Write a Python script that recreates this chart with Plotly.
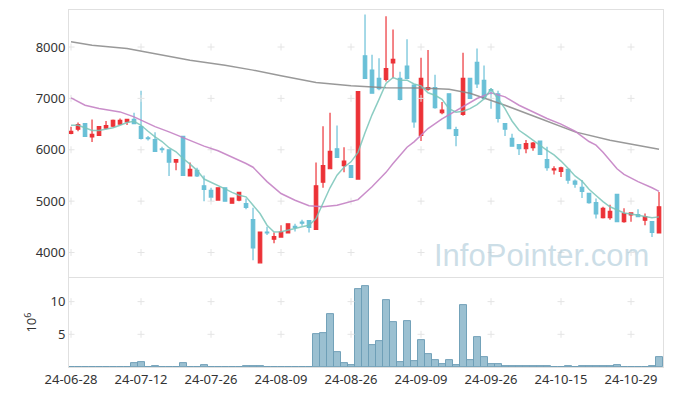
import plotly.graph_objects as go
from plotly.subplots import make_subplots

dates = ["24-06-28","24-07-01","24-07-02","24-07-03","24-07-04","24-07-05","24-07-08","24-07-09","24-07-10","24-07-11",
         "24-07-12","24-07-15","24-07-16","24-07-17","24-07-18","24-07-19","24-07-22","24-07-23","24-07-24","24-07-25",
         "24-07-26","24-07-29","24-07-30","24-07-31","24-08-01","24-08-02","24-08-05","24-08-06","24-08-07","24-08-08",
         "24-08-09","24-08-12","24-08-13","24-08-14","24-08-16","24-08-19","24-08-20","24-08-21","24-08-22","24-08-23",
         "24-08-26","24-08-27","24-08-28","24-08-29","24-08-30","24-09-02","24-09-03","24-09-04","24-09-05","24-09-06",
         "24-09-09","24-09-10","24-09-11","24-09-12","24-09-13","24-09-19","24-09-20","24-09-23","24-09-24","24-09-25",
         "24-09-26","24-09-27","24-09-30","24-10-02","24-10-04","24-10-07","24-10-08","24-10-10","24-10-11","24-10-14",
         "24-10-15","24-10-16","24-10-17","24-10-18","24-10-21","24-10-22","24-10-23","24-10-24","24-10-25","24-10-28",
         "24-10-29","24-10-30","24-10-31","24-11-01","24-11-04"]

open_ = [6320,6400,6510,6250,6280,6420,6460,6500,6540,6590,
         6450,6230,6200,6020,6000,5760,6260,5490,5600,5300,
         5210,5020,5260,4960,5020,4950,4640,3800,4400,4260,
         4300,4380,4510,4590,4620,4450,5370,5630,6020,5690,
         5690,5430,7830,7550,7390,7370,7690,7390,7630,7260,
         6280,7180,7210,6720,7090,6390,6690,7390,7700,7350,
         7170,7090,6510,6220,6100,6020,6040,6170,5810,5610,
         5580,5620,5390,5270,5150,4970,4680,4680,5130,4600,
         4730,4740,4630,4600,4380]
high = [6450,6530,6520,6590,6460,6560,6590,6610,6590,6720,
        7150,6270,6340,6060,6000,5810,6260,5750,5650,5500,
        5260,5260,5260,5060,5180,5050,4870,4400,4500,4390,
        4530,4560,4560,4640,4620,5750,6460,6720,6470,6050,
        5690,7130,8630,7850,7780,8600,8340,7520,8150,7260,
        7790,7940,7460,6930,7090,6450,7890,7400,7970,7640,
        7200,7150,6510,6310,6100,6190,6150,6170,6060,5680,
        5670,5620,5420,5410,5160,5050,4890,4930,5130,4860,
        4780,4840,4760,4600,5180]
low = [6300,6360,6250,6150,6270,6400,6440,6480,6480,6500,
       6200,6180,5960,5940,5490,5600,5500,5490,5470,5000,
       5000,5020,4990,4950,5000,4840,3850,3800,4340,4180,
       4290,4380,4410,4520,4390,4450,5260,5630,5840,5560,
       5460,5430,7390,7100,7160,7330,7390,6960,7370,6430,
       6170,7150,6800,6690,6410,6070,6660,7000,7200,6980,
       6800,6530,6270,6070,5900,5930,5980,5910,5590,5520,
       5470,5340,5260,5060,4950,4660,4660,4640,4600,4580,
       4600,4690,4530,4300,4380]
close = [6360,6490,6260,6300,6450,6470,6570,6570,6590,6510,
         6220,6215,5970,6000,5760,5810,5500,5620,5490,5230,
         5080,5260,5000,5060,5170,4880,4090,4400,4380,4310,
         4400,4560,4490,4570,4490,5300,5690,5970,5850,5780,
         5460,7130,7390,7100,7190,7580,7760,6980,7390,6540,
         7390,7210,6820,6770,6410,6280,7390,7000,7280,7000,
         7150,6610,6400,6070,6020,6120,6130,5910,5650,5630,
         5650,5410,5330,5190,4970,4750,4860,4800,4600,4760,
         4770,4700,4700,4390,4890]

volume_m = [0.02,0.02,0.02,0.02,0.02,0.02,0.02,0.02,0.02,0.56,
            0.71,0.03,0.10,0.03,0.03,0.03,0.56,0.03,0.03,0.25,
            0.03,0.03,0.03,0.03,0.03,0.10,0.12,0.10,0.03,0.03,
            0.03,0.03,0.03,0.03,0.03,5.00,5.15,8.06,2.24,0.56,
            0.26,11.9,12.4,3.30,3.98,10.2,6.84,0.77,7.00,0.87,
            4.08,1.94,1.02,0.41,1.02,0.26,9.44,1.02,4.54,1.48,
            0.41,0.41,0.10,0.10,0.10,0.10,0.10,0.10,0.10,0.03,
            0.03,0.10,0.03,0.10,0.10,0.10,0.10,0.10,0.26,0.03,
            0.03,0.03,0.03,0.10,1.48]

ma5_idx = list(range(85))
ma5_val = [6477,6477,6427,6374,6374,6399,6427,6477,6530,6555,
           6477,6361,6251,6160,6040,5960,5829,5720,5600,5430,
           5370,5310,5240,5170,5115,5084,4920,4759,4531,4400,
           4403,4430,4467,4500,4531,4662,4960,5260,5504,5660,
           5765,5950,6330,6680,6980,7289,7406,7354,7354,7280,
           7243,7110,7061,6980,6800,6730,6750,6800,6880,6990,
           7180,6980,6800,6560,6380,6283,6180,6089,5990,5900,
           5780,5640,5490,5390,5230,5110,4990,4890,4823,4770,
           4750,4727,4700,4675,4694]
ma20_idx = [0,2,4,7,9,12,14,16,19,21,24,25,26,27,28,30,32,34,36,38,40,41,43,45,46,48,49,51,53,55,57,58,60,62,64,66,68,70,72,74,75,76,77,78,79,81,83,84]
ma20_val = [7011,6866,6802,6737,6640,6450,6348,6240,6070,5980,5800,5732,5660,5520,5380,5148,5018,4909,4889,4920,4990,5030,5280,5560,5732,6050,6154,6413,6600,6760,6920,6997,7107,7030,6866,6737,6608,6500,6360,6160,6089,5950,5800,5630,5520,5380,5260,5190]
ma120_idx = [0,3,8,13,17,22,26,30,35,40,45,50,54,57,62,67,72,77,81,84]
ma120_val = [8100,8035,7970,7840,7743,7645,7550,7440,7308,7244,7205,7200,7178,7100,6866,6608,6348,6186,6089,6011]

tick_idx = [0,10,20,30,40,50,60,70,80]
price_ticks = [4000,5000,6000,7000,8000]
vol_ticks = [5,10]

RED = "#ec3237"
CYAN = "#6ac0d7"
FONT = "Noto Sans"

fig = make_subplots(rows=2, cols=1, shared_xaxes=True, vertical_spacing=0.004,
                    row_heights=[0.75, 0.25])

fig.add_trace(go.Candlestick(x=dates, open=open_, high=high, low=low, close=close,
                             increasing=dict(line=dict(color=RED, width=1.2), fillcolor=RED),
                             decreasing=dict(line=dict(color=CYAN, width=1.2), fillcolor=CYAN),
                             whiskerwidth=0, showlegend=False), row=1, col=1)

# grid crosses at tick intersections
gx = [dates[i] for i in tick_idx for _ in price_ticks]
gy = [p for _ in tick_idx for p in price_ticks]
fig.add_trace(go.Scatter(x=gx, y=gy, mode="markers", hoverinfo="skip",
                         marker=dict(symbol="cross-thin", size=5, line=dict(color="#e4e4e4", width=1)),
                         showlegend=False), row=1, col=1)

fig.add_trace(go.Scatter(x=[dates[i] for i in ma120_idx], y=ma120_val, mode="lines",
                         line=dict(color="rgba(135,135,135,0.85)", width=1.5), showlegend=False), row=1, col=1)
fig.add_trace(go.Scatter(x=[dates[i] for i in ma20_idx], y=ma20_val, mode="lines",
                         line=dict(color="rgba(196,130,196,0.9)", width=1.5), showlegend=False), row=1, col=1)
fig.add_trace(go.Scatter(x=[dates[i] for i in ma5_idx], y=ma5_val, mode="lines",
                         line=dict(color="rgba(120,196,184,0.85)", width=1.5), showlegend=False), row=1, col=1)

fig.add_trace(go.Bar(x=dates, y=volume_m, marker=dict(color="rgba(130,176,198,0.8)",
                                                      line=dict(color="rgba(110,158,182,0.95)", width=1)),
                     showlegend=False), row=2, col=1)
gx2 = [dates[i] for i in tick_idx for _ in vol_ticks]
gy2 = [v for _ in tick_idx for v in vol_ticks]
fig.add_trace(go.Scatter(x=gx2, y=gy2, mode="markers", hoverinfo="skip",
                         marker=dict(symbol="cross-thin", size=5, line=dict(color="#e4e4e4", width=1)),
                         showlegend=False), row=2, col=1)

fig.add_annotation(text="InfoPointer.com", xref="paper", yref="paper", x=0.796, y=0.311,
                   xanchor="center", yanchor="middle",
                   showarrow=False, font=dict(family="Liberation Sans", size=31,
                                              color="rgba(170,200,215,0.6)"))

axis_common = dict(showline=True, linecolor="#e0e0e0", linewidth=1, mirror=True,
                   showgrid=False, zeroline=False, ticks="", automargin=False,
                   tickfont=dict(family=FONT, size=13, color="#333333"))

fig.update_xaxes(type="category", categoryorder="array", categoryarray=dates,
                 range=[-0.29, 84.57], rangeslider=dict(visible=False),
                 tickmode="array", tickvals=[dates[i] for i in tick_idx],
                 ticktext=[dates[i] for i in tick_idx], tickangle=0, **axis_common)
fig.update_xaxes(showticklabels=False, row=1, col=1)
fig.update_yaxes(range=[3530, 8720], tickmode="array", tickvals=price_ticks, tickformat="d",
                 row=1, col=1, **axis_common)
fig.update_yaxes(range=[0, 13.6], tickmode="array", tickvals=vol_ticks,
                 title=dict(text="10<sup>6</sup>", font=dict(family=FONT, size=13, color="#333333"), standoff=10),
                 row=2, col=1, **axis_common)

# page body has an 8px default margin, so the figure is 8px smaller than the window
fig.update_layout(width=665, height=388, margin=dict(l=61, r=10, t=2, b=29),
                  paper_bgcolor="white", plot_bgcolor="white", bargap=0,
                  font=dict(family=FONT, size=13, color="#333333"))

fig.write_html("out.html")
